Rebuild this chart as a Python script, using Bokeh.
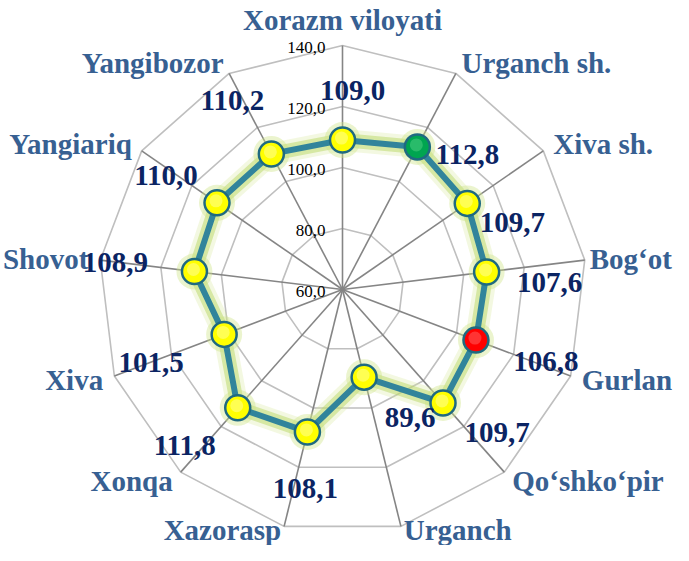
import math
from bokeh.plotting import figure
from bokeh.models import Range1d
from bokeh.core.properties import value
from bokeh.embed import file_html
from bokeh.resources import INLINE

# ---- data ----
categories = ["Xorazm viloyati", "Urganch sh.", "Xiva sh.", "Bog\u2018ot", "Gurlan",
              "Qo\u2018shko\u2018pir", "Urganch", "Xazorasp", "Xonqa", "Xiva",
              "Shovot", "Yangiariq", "Yangibozor"]
values = [109.0, 112.8, 109.7, 107.6, 106.8, 109.7, 89.6, 108.1, 111.8, 101.5,
          108.9, 110.0, 110.2]
ticks = [60, 80, 100, 120, 140]
highlight_high = "Urganch sh."
highlight_low = "Gurlan"

# ---- layout / style ----
W, H = 673, 545
R = 244.0
rmin, rmax = 60.0, 140.0
# value-label offsets in px (dx right, dy down)
label_offsets = [(10, -50), (50, 8), (45, 19), (63, 10), (70, 21), (54, 30), (46, 40),
                 (-2, 57), (-53, 38), (-73, 28), (-79, -9), (-51, -27), (-39, -53)]
# category-label padding beyond the outer ring, px
cat_pads = [10, 12, 12, 5, 12, 12, 12, 12, 12, 12, 12, 12, 12]

n = len(categories)
ang = [2 * math.pi * i / n for i in range(n)]


def rad(v):
    return (v - rmin) / (rmax - rmin) * R


p = figure(width=W, height=H, output_backend="svg", toolbar_location=None,
           x_range=Range1d(-342, W - 342), y_range=Range1d(-(H - 289), 289),
           min_border=0, background_fill_color="white", border_fill_color="white")
p.xaxis.visible = False
p.yaxis.visible = False
p.xgrid.visible = False
p.ygrid.visible = False
p.outline_line_color = None

serif = value("Liberation Serif")

# rings
for t in ticks[1:]:
    r = rad(t)
    xs = [r * math.sin(a) for a in ang] + [0]
    ys = [r * math.cos(a) for a in ang] + [r]
    p.line(xs, ys, line_color="#bfbfbf", line_width=1.6)

# spokes
for a in ang:
    p.line([0, R * math.sin(a)], [0, R * math.cos(a)], line_color="#858585", line_width=1.6)

# tick labels
p.text(x=[-17] * len(ticks), y=[rad(t) - 2 for t in ticks],
       text=[f"{t:.1f}".replace(".", ",") for t in ticks],
       text_font=serif, text_font_size="17px", text_color="#000000",
       text_align="right", text_baseline="middle")

# series
px = [rad(v) * math.sin(a) for v, a in zip(values, ang)]
py = [rad(v) * math.cos(a) for v, a in zip(values, ang)]
cx, cy = px + [px[0]], py + [py[0]]

# glow
p.line(cx, cy, line_color="#d6e99a", line_width=22, line_alpha=0.3, line_join="round")
p.line(cx, cy, line_color="#b9d866", line_width=14, line_alpha=0.5, line_join="round")
p.scatter(px, py, size=36, fill_color="#cde385", fill_alpha=0.4, line_color=None)
# main line
p.line(cx, cy, line_color="#31849b", line_width=6, line_join="round")

# markers
fills = []
for c in categories:
    if c == highlight_high:
        fills.append("#00a550")
    elif c == highlight_low:
        fills.append("#ff0000")
    else:
        fills.append("#ffff00")
p.scatter(px, py, size=25, fill_color=fills, line_color="#1f6a80", line_width=2.5)
# small highlight for glossy look
hl = []
for c in categories:
    if c == highlight_high:
        hl.append("#33c070")
    elif c == highlight_low:
        hl.append("#ff4040")
    else:
        hl.append("#ffff66")
p.scatter([x - 1 for x in px], [y + 2 for y in py], size=13, fill_color=hl,
          fill_alpha=0.8, line_color=None)

# value labels
lx = [x + dx for x, (dx, dy) in zip(px, label_offsets)]
ly = [y - dy for y, (dx, dy) in zip(py, label_offsets)]
p.text(x=lx, y=ly, text=[f"{v:.1f}".replace(".", ",") for v in values],
       text_font=serif, text_font_style="bold", text_font_size="29px",
       text_color="#0b2463", text_align="center", text_baseline="middle")

# category labels
for c, a, pad in zip(categories, ang, cat_pads):
    s = math.sin(a)
    if abs(s) < 1e-6:
        p.text(x=[0], y=[R + pad], text=[c], text_font=serif, text_font_style="bold",
               text_font_size="29px", text_color="#376092", text_align="center",
               text_baseline="bottom")
        continue
    x = (R + pad) * s
    y = max((R + pad) * math.cos(a), -(H - 289) + 16)
    p.text(x=[x], y=[y], text=[c], text_font=serif, text_font_style="bold",
           text_font_size="29px", text_color="#376092",
           text_align="left" if s > 0 else "right", text_baseline="middle")

open("out.html", "w").write(file_html(p, INLINE))
